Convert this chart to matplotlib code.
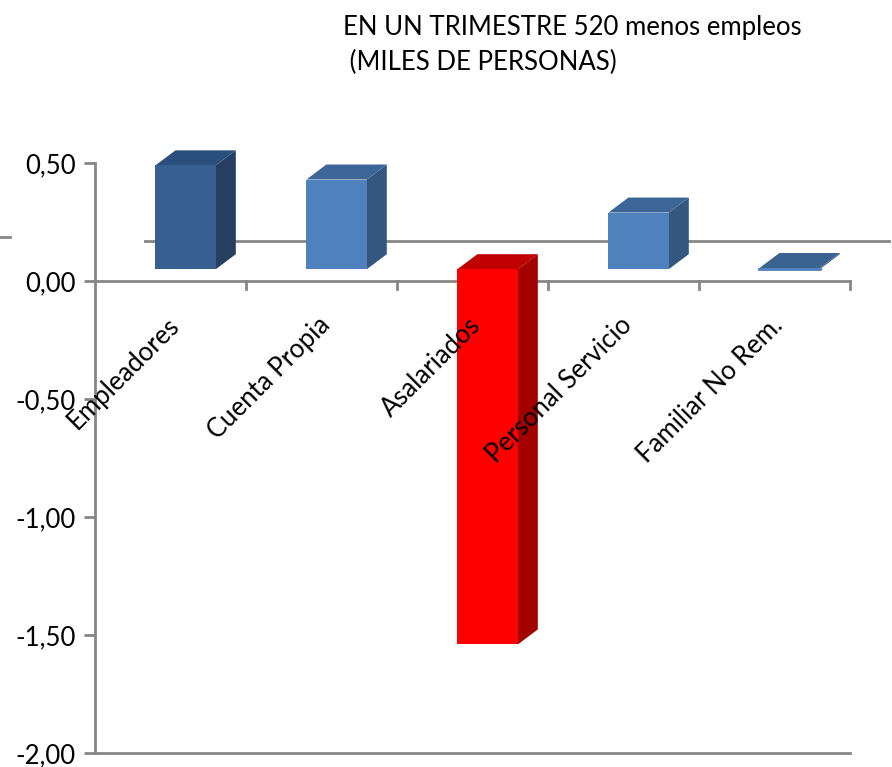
import numpy as np
import matplotlib.pyplot as plt
from matplotlib.patches import Polygon
from matplotlib.lines import Line2D

plt.rcParams['font.family'] = ['Lato', 'DejaVu Sans']

categories = ["Empleadores", "Cuenta Propia", "Asalariados", "Personal Servicio", "Familiar No Rem."]
values = [0.44, 0.38, -1.59, 0.24, 0.005]
yticks = [0.5, 0.0, -0.5, -1.0, -1.5, -2.0]
ytick_labels = ["0,50", "0,00", "-0,50", "-1,00", "-1,50", "-2,00"]

# face colours: front, top, side
colors = [
    ("#366092", "#2B4F7C", "#243F60"),
    ("#4F81BD", "#3C6598", "#34577F"),
    ("#FF0000", "#C00000", "#A50000"),
    ("#4F81BD", "#3C6598", "#34577F"),
    ("#4F81BD", "#3A6391", "#34577F"),
]

floor = 0.05      # front floor level of the 3D plot
dx, dy = 0.1325, 0.0636   # depth offset
half_w = 0.2
shift = 0.1
gray = "#868686"
fs = 18.5

fig = plt.figure(figsize=(8.92, 7.67), dpi=100)
ax = fig.add_axes([95/892, 14/767, 755/892, 590/767])
ax.set_xlim(0, 5)
ax.set_ylim(-2.0, 0.5)

for s in ["top", "right", "bottom"]:
    ax.spines[s].set_visible(False)
ax.spines["left"].set_color(gray)
ax.spines["left"].set_linewidth(2)

ax.set_yticks(yticks)
ax.set_yticklabels(ytick_labels, fontsize=fs)
ax.tick_params(axis="y", length=8, width=2, color=gray, pad=6)
ax.set_xticks([])

# bottom line and zero axis
ax.plot([0, 5], [-2.0, -2.0], color=gray, lw=2, clip_on=False, zorder=1)
ax.plot([0, 5], [0, 0], color=gray, lw=2, zorder=1)
for k in range(1, 6):
    ax.plot([k, k], [0, -0.034], color=gray, lw=2, clip_on=False, zorder=1)
# back floor edge
ax.plot([0.33, 5.26], [floor + 0.119, floor + 0.119], color=gray, lw=2, clip_on=False, zorder=1)

for i, (v, (cf, ct, cs)) in enumerate(zip(values, colors)):
    x0 = i + 0.5 + shift - half_w
    x1 = i + 0.5 + shift + half_w
    y_top = max(floor, floor + v)
    y_bot = min(floor, floor + v)
    front = Polygon([(x0, y_bot), (x1, y_bot), (x1, y_top), (x0, y_top)],
                    closed=True, fc=cf, ec="none", clip_on=False, zorder=3)
    top = Polygon([(x0, y_top), (x1, y_top), (x1 + dx, y_top + dy), (x0 + dx, y_top + dy)],
                  closed=True, fc=ct, ec="none", clip_on=False, zorder=3)
    side = Polygon([(x1, y_bot), (x1 + dx, y_bot + dy), (x1 + dx, y_top + dy), (x1, y_top)],
                   closed=True, fc=cs, ec="none", clip_on=False, zorder=3)
    ax.add_patch(side)
    ax.add_patch(top)
    ax.add_patch(front)
    if abs(v) < 0.02:
        ax.plot([x0, x1], [y_bot, y_bot], color=cf, lw=2, clip_on=False, zorder=4)

for i, name in enumerate(categories):
    ax.text(i + 0.53, -0.17, name, rotation=45, rotation_mode="anchor",
            ha="right", va="center", fontsize=fs, zorder=5)

fig.text(343/892, 1 - 28/767, "EN UN TRIMESTRE 520 menos empleos", fontsize=fs,
         ha="left", va="center")
fig.text(343/892, 1 - 62/767, " (MILES DE PERSONAS)", fontsize=fs,
         ha="left", va="center")

fig.add_artist(Line2D([0, 10/892], [1 - 237/767, 1 - 237/767], color=gray, lw=2))

fig.savefig("out.png", dpi=100)
